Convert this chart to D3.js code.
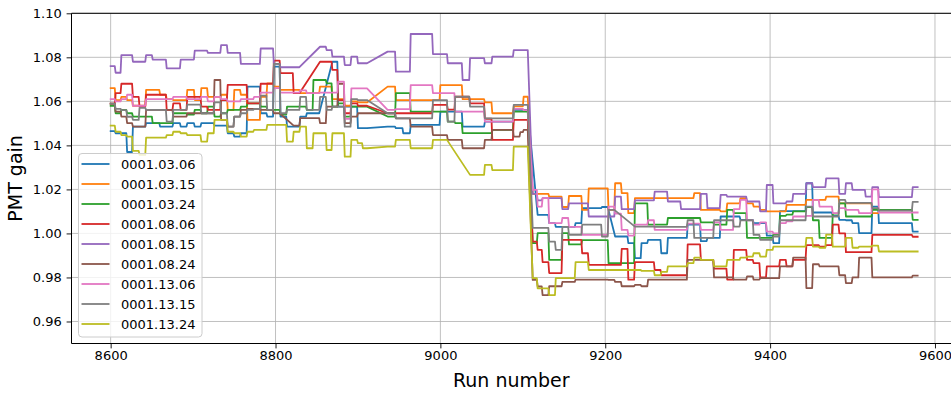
<!DOCTYPE html>
<html><head><meta charset="utf-8">
<script src="https://cdn.jsdelivr.net/npm/d3@7"></script>
<style>body{margin:0;background:#fff} svg{display:block} text{font-family:"DejaVu Sans",sans-serif}</style>
</head><body><svg id="c" width="951" height="393"></svg>
<script>
// calibration periods [first run, last run]
const periods = [
[8600,8605],[8606,8612],[8613,8619],[8620,8626],[8627,8634],[8635,8642],[8643,8650],[8651,8659],[8660,8667],[8668,8675],
[8676,8684],[8685,8692],[8693,8701],[8702,8709],[8710,8717],[8718,8725],[8726,8733],[8734,8741],[8742,8749],[8750,8757],
[8758,8765],[8766,8773],[8774,8781],[8782,8789],[8790,8797],[8798,8805],[8806,8813],[8814,8821],[8822,8829],[8830,8837],
[8838,8845],[8846,8853],[8854,8861],[8862,8868],[8869,8875],[8876,8883],[8884,8891],[8892,8899],[8900,8905],[8906,8911],
[8936,8945],[8946,8954],[8955,8963],[8964,8972],[8973,8981],[8982,8990],[8991,8999],[9000,9008],[9009,9017],[9018,9026],
[9027,9035],[9036,9044],[9045,9053],[9054,9062],[9063,9071],[9072,9080],[9081,9088],[9089,9096],[9097,9100],[9101,9106],
[9112,9117],[9118,9123],[9124,9131],[9132,9139],[9140,9147],[9148,9155],[9156,9163],[9164,9171],[9172,9179],[9180,9187],
[9188,9195],[9196,9203],[9204,9211],[9212,9219],[9220,9227],[9228,9235],[9236,9243],[9244,9251],[9252,9259],[9260,9267],
[9268,9275],[9276,9283],[9284,9291],[9292,9299],[9300,9307],[9308,9315],[9316,9323],[9324,9331],[9332,9339],[9340,9347],
[9348,9355],[9356,9363],[9364,9371],[9372,9379],[9380,9387],[9388,9395],[9396,9403],[9404,9411],[9412,9419],[9420,9427],
[9428,9435],[9436,9443],[9444,9451],[9452,9459],[9460,9467],[9468,9475],[9476,9483],[9484,9491],[9492,9499],[9500,9507],
[9508,9515],[9516,9523],[9524,9531],[9532,9539],[9540,9572],[9573,9579]];

const labels = ["0001.03.06","0001.03.15","0001.03.24","0001.08.06","0001.08.15","0001.08.24","0001.13.06","0001.13.15","0001.13.24"];
const colors = ["#1f77b4","#ff7f0e","#2ca02c","#d62728","#9467bd","#8c564b","#e377c2","#7f7f7f","#bcbd22"];

const gain_0001_03_06 = [1.0465,1.0455,1.0455,1.037,1.0485,1.0485,1.0501,1.0501,1.0485,1.0485,
1.0501,1.0485,1.0501,1.0485,1.0501,1.0501,1.049,1.049,1.0455,1.044,
1.0455,1.0667,1.0667,1.0546,1.0531,1.0758,1.0531,1.0485,1.0485,1.0531,
1.0546,1.0546,null,null,1.078,1.0576,1.0576,1.0576,1.0478,1.0478,
1.0485,1.0478,1.0455,1.0493,1.0493,1.0493,1.0493,1.0553,1.0553,1.0553,
1.0485,1.0485,1.0485,1.0508,1.0508,1.0508,1.0508,1.0561,1.0561,1.0561,
null,1.0084,1.0084,1.0047,1.003,1.003,1.003,1.0047,1.0115,1.0115,
1.0115,1.012,null,0.9986,0.9986,0.9956,0.9888,0.9956,0.9971,0.9971,
0.991,0.998,0.998,0.998,1.004,1.004,0.9965,0.998,0.998,1.0077,
1.0077,1.0077,1.0062,1.0062,1.0047,1.0047,0.999,0.9956,1.0101,1.0101,
1.0101,1.0101,1.0228,1.0095,1.0095,1.0095,1.008,1.0062,1.006,1.0047,
1.0001,1.0001,1.0122,1.0047,1.0047,1.0008];

const gain_0001_03_15 = [1.066,1.0606,1.062,1.0606,1.058,1.058,1.0652,1.0652,1.063,1.061,
1.0606,1.0606,1.0652,1.0606,1.066,1.062,1.062,1.063,1.056,1.0652,
1.063,1.0516,1.0516,1.062,1.0682,1.0667,1.0652,1.0652,1.0652,1.0637,
1.0637,1.0637,1.0667,1.0667,1.061,1.061,1.058,1.06,1.0595,1.0595,
1.0667,1.0606,1.0606,1.0606,1.0606,1.0606,1.0606,1.0674,1.0674,1.0674,
1.061,1.061,1.061,1.0595,1.0546,1.0546,1.0546,1.0577,1.0577,1.0621,
1.018,1.018,1.018,1.0167,1.0167,1.012,1.017,1.017,1.0107,1.0205,
1.0205,1.0205,1.0107,1.0228,1.0183,1.0092,1.016,1.016,1.016,1.016,
1.016,1.016,1.016,1.016,1.016,1.0183,1.0107,1.0107,1.0107,1.01,
1.0137,1.0137,1.016,1.0137,1.0122,1.0107,1.01,1.01,1.01,1.013,
1.013,1.013,1.0152,1.0152,1.0152,1.0167,1.0167,1.0137,1.0137,1.0137,
1.0137,1.0137,1.0092,null,null,null];

const gain_0001_03_24 = [1.058,1.0546,1.0561,1.0546,1.0531,1.0531,1.0531,1.0501,1.0501,1.0501,
1.0546,1.0546,1.054,1.0561,1.0546,1.0576,1.0531,1.0546,1.0561,1.0561,
1.0576,1.0591,1.0591,1.0576,1.0561,1.0561,1.054,1.0576,1.0576,1.0576,
1.0561,1.0697,1.0697,1.0682,1.0576,1.0591,1.0531,1.0576,1.0576,1.0576,
1.0531,1.0637,1.0637,1.0553,1.0553,1.0553,1.0553,1.0553,1.0508,1.0501,
1.0456,1.0456,1.0456,1.0456,1.047,1.047,1.047,1.0553,1.0553,1.0553,
0.9956,1.0001,1.0001,0.988,0.988,1.0001,0.995,0.995,0.997,0.997,
0.997,0.997,0.9865,0.9865,0.9865,0.9865,1.0137,1.0137,1.004,1.004,
1.004,1.007,1.007,1.007,1.007,1.007,1.005,1.005,1.004,1.004,
1.0107,1.0092,1.0092,0.998,0.998,0.998,0.998,0.9995,1.008,1.0085,
1.01,1.01,1.012,1.006,0.998,0.998,1.009,1.0137,1.0077,1.0077,
1.0077,1.0077,1.0107,1.0107,1.0107,1.0062];

const gain_0001_08_06 = [1.059,1.0637,1.068,1.068,1.062,1.0576,1.063,1.063,1.063,1.0561,
1.0591,1.0561,1.062,1.062,1.0576,1.0561,1.0561,1.0606,1.0675,1.0675,
1.0675,1.0591,1.0591,1.068,1.068,1.0785,1.0728,1.0728,1.0637,null,
null,null,1.078,1.078,1.0743,1.0606,1.0546,1.0591,1.058,1.058,
1.0546,1.0546,1.0546,1.0546,1.0546,1.0546,1.0584,1.0584,1.0562,1.0621,
1.0621,1.0591,1.0591,1.0521,1.0425,1.0425,1.0425,1.0516,1.0516,1.0516,
0.9963,0.9925,0.987,0.982,0.982,0.9971,0.9971,0.9971,0.991,0.9857,
0.9857,0.9857,0.9857,0.9857,0.993,0.979,0.987,0.987,0.987,0.9834,
0.981,0.981,0.981,0.981,0.995,0.995,0.988,0.988,0.984,0.984,
0.979,0.9925,0.9925,0.988,0.9865,0.98,0.985,0.985,0.988,0.985,
0.988,0.988,0.9947,0.9947,0.994,0.9947,1.004,1.0,0.9915,0.9915,
0.9915,0.9915,0.9993,0.9993,0.9993,0.9985];

const gain_0001_08_15 = [1.076,1.073,1.081,1.081,1.078,1.078,1.081,1.079,1.079,1.075,
1.075,1.079,1.079,1.083,1.083,1.082,1.082,1.0855,1.082,1.082,
1.077,1.077,1.077,1.084,1.084,1.077,1.0755,1.0755,1.0755,null,
null,null,1.0848,1.0833,1.0803,1.0803,1.0765,1.0803,1.0773,1.0773,
1.0826,1.0735,1.0735,1.0906,1.0906,1.0906,1.0815,1.0815,1.0773,1.0773,
1.0697,1.0796,1.0796,1.0773,1.0803,1.0803,1.0803,1.0833,1.0833,1.0833,
1.018,1.015,1.016,1.016,1.016,1.011,1.0137,1.0137,1.0137,1.0077,
1.0077,1.0077,1.0077,1.0167,1.011,1.011,1.015,1.015,1.015,1.019,
1.019,1.0145,1.0145,1.011,1.011,1.011,1.018,1.0115,1.0115,1.0175,
1.0167,1.0167,1.0167,1.0145,1.0145,1.010,1.022,1.0137,1.0137,1.0145,
1.018,1.018,1.0228,1.021,1.021,1.025,1.025,1.018,1.0228,1.0198,
1.0198,1.0167,1.021,1.0165,1.0165,1.021];

const gain_0001_08_24 = [1.059,1.0553,1.0531,1.0501,1.0485,1.0485,1.0561,1.0561,1.0561,1.0561,
1.0531,1.0531,1.0546,1.0546,1.0546,1.0546,1.0697,1.0516,1.0485,1.0531,
1.0561,1.0566,1.0566,1.0561,1.0561,1.0546,null,null,1.049,1.0524,
1.0524,1.0524,1.0501,1.0576,1.0576,1.068,1.0501,1.0531,1.0546,1.0546,
1.0546,1.0523,1.0523,1.0485,1.0485,1.0485,1.0447,1.0447,1.0425,1.0425,
1.0387,1.0387,1.0387,1.0425,1.047,1.047,1.047,1.044,1.046,1.047,
0.9789,0.9759,0.972,0.976,0.976,0.978,0.978,0.979,0.979,0.979,
0.979,0.979,0.9789,0.978,0.976,0.976,0.9766,0.976,0.979,0.979,
0.979,0.979,0.979,0.979,0.988,0.988,0.988,0.988,0.98,0.98,
0.98,0.979,0.979,0.9805,0.979,0.9797,0.9797,0.9797,0.985,0.985,
0.989,0.989,0.9752,0.986,0.985,0.985,0.985,0.981,0.9774,0.980,
0.989,0.989,0.980,0.980,0.980,0.9808];

const gain_0001_13_06 = [1.061,1.06,1.061,1.063,1.058,1.058,1.061,1.061,1.061,1.061,
1.062,1.062,1.061,1.061,1.062,1.060,1.062,1.061,1.060,1.060,
1.061,1.061,1.062,1.064,1.064,1.066,1.064,1.064,1.064,1.065,
1.0637,1.0637,1.064,1.064,1.064,1.069,1.052,1.0659,1.0659,1.0659,
1.0561,1.0565,1.0565,1.0674,1.0674,1.0674,1.0637,1.0637,1.0637,1.0553,
1.0553,1.0553,1.0553,1.0508,1.0508,1.0508,1.0508,1.0566,1.0566,1.056,
1.0198,1.0122,1.016,1.0047,1.0047,1.007,1.003,1.003,0.9993,0.9993,
0.9993,0.9993,1.0122,1.009,1.0016,0.999,1.004,1.004,1.006,1.0016,
1.0016,1.0016,1.0016,1.0016,1.0045,1.0045,1.0016,1.0016,1.005,1.0016,
1.0016,1.011,1.0152,1.006,1.004,1.005,1.0008,1.0,1.0047,1.0055,
1.0077,1.0077,1.008,1.0152,1.0122,1.0122,1.0092,1.0115,1.0107,1.0107,
1.0092,1.0092,1.02,1.0095,1.0095,1.0095];

const gain_0001_13_15 = [1.059,1.0566,1.056,1.053,1.0516,1.057,1.0561,1.0561,1.0561,1.0508,
1.0561,1.0561,1.0585,1.0585,1.0546,1.0546,1.0595,1.0546,1.0485,1.0531,
1.0546,1.0561,1.0566,1.0626,1.0561,1.077,1.0546,1.0561,1.0561,1.062,
1.0561,1.0561,1.062,1.0561,1.0576,1.0576,1.0485,1.061,1.0606,1.0606,
1.0546,1.0523,1.0523,1.0523,1.0523,1.0523,1.0606,1.0606,1.0508,1.0621,
1.0621,1.0576,1.0576,1.0523,1.0523,1.0523,1.0523,1.0584,1.0584,1.0584,
1.0025,1.0025,1.0025,0.9963,0.9925,1.003,0.9993,0.9993,1.004,1.004,
1.004,0.9986,1.0107,null,null,null,1.0031,1.0031,1.0031,1.003,
1.003,1.003,1.003,1.003,1.006,0.998,0.998,0.998,1.006,1.006,
1.006,1.0031,1.006,1.006,0.9993,0.9971,0.9971,0.9986,1.006,1.006,
1.006,1.006,1.0122,1.0077,1.0077,1.0077,1.0077,1.0152,1.0139,1.0139,
1.0139,1.0139,1.0115,1.0104,1.0104,1.0143];

const gain_0001_13_24 = [1.049,1.0462,1.0447,1.044,1.0375,1.0357,1.0435,1.0435,1.0435,1.0447,
1.0462,1.0455,1.0447,1.0447,1.0417,1.0455,1.0516,1.0516,1.0462,1.0455,
1.044,1.0462,1.047,1.047,1.0493,1.0493,1.0493,1.0417,1.0462,1.0485,
1.0387,1.0455,1.0455,1.0379,1.0455,1.0455,1.0349,1.0425,1.041,1.0387,
1.0394,1.0425,1.0425,1.0387,1.0387,1.0387,1.0425,1.0425,null,null,
null,1.0266,1.0266,1.0311,1.0288,1.0288,1.0288,1.0394,1.0394,1.0394,
0.9797,0.975,0.975,0.972,0.9797,0.9797,0.9797,0.987,0.987,0.9834,
0.9834,0.9834,0.9834,0.9834,0.9834,0.9834,0.9834,0.983,0.983,0.981,
0.9825,0.985,0.985,0.985,0.9865,0.989,0.988,0.988,0.985,0.985,
0.988,0.988,0.989,0.9895,0.991,0.9895,0.9925,0.994,0.994,0.994,
0.994,0.994,0.998,0.994,0.9935,0.9995,0.994,0.994,0.998,0.9935,
0.994,0.994,0.9945,0.9918,0.9918,0.9918];

const seriesValues = [gain_0001_03_06,gain_0001_03_15,gain_0001_03_24,gain_0001_08_06,gain_0001_08_15,gain_0001_08_24,gain_0001_13_06,gain_0001_13_15,gain_0001_13_24];

const xTicks = [8600,8800,9000,9200,9400,9600];
const yTicks = [0.96,0.98,1.00,1.02,1.04,1.06,1.08,1.10];

const L = 71.5, R = 955, T = 13.3, B = 343.5;
const svg = d3.select("#c");
svg.append("rect").attr("width",951).attr("height",393).attr("fill","#fff");
const x = d3.scaleLinear().domain([8552.5, 9624.3]).range([L, R]);
const y = d3.scaleLinear().domain([0.95, 1.10]).range([B, T]);

// grid
const grid = svg.append("g").attr("stroke","#b0b0b0").attr("stroke-width",0.8);
grid.selectAll("line.gx").data(xTicks).enter().append("line")
  .attr("x1",d=>x(d)).attr("x2",d=>x(d)).attr("y1",T).attr("y2",B);
grid.selectAll("line.gy").data(yTicks).enter().append("line")
  .attr("x1",L).attr("x2",R).attr("y1",d=>y(d)).attr("y2",d=>y(d));

// clip
svg.append("clipPath").attr("id","clip").append("rect")
  .attr("x",L).attr("y",T).attr("width",R-L).attr("height",B-T);

const line = d3.line().x(d=>x(d[0])).y(d=>y(d[1]));
const plot = svg.append("g").attr("clip-path","url(#clip)");
seriesValues.forEach((vals,i)=>{
  const pts = [];
  vals.forEach((v,k)=>{ if(v!==null){ pts.push([periods[k][0],v]); pts.push([periods[k][1],v]); } });
  plot.append("path").attr("d",line(pts)).attr("fill","none")
    .attr("stroke",colors[i]).attr("stroke-width",1.8).attr("stroke-linejoin","round").attr("stroke-linecap","square");
});

// axes
const xAxis = svg.append("g").attr("transform",`translate(0,${B})`)
  .call(d3.axisBottom(x).tickValues(xTicks).tickFormat(d3.format("d")).tickSize(4.9).tickPadding(2.6));
const yAxis = svg.append("g").attr("transform",`translate(${L},0)`)
  .call(d3.axisLeft(y).tickValues(yTicks).tickFormat(d3.format(".2f")).tickSize(4.9).tickPadding(4.9));
[xAxis,yAxis].forEach(a=>{
  a.select(".domain").remove();
  a.selectAll("text").attr("font-size",13).attr("font-family","DejaVu Sans").attr("fill","#000");
  a.selectAll("line").attr("stroke","#000").attr("stroke-width",0.9);
});

// spines
const sp = svg.append("g").attr("stroke","#000").attr("stroke-width",1).attr("fill","none");
sp.append("line").attr("x1",L).attr("x2",L).attr("y1",T).attr("y2",B);
sp.append("line").attr("x1",L).attr("x2",R).attr("y1",B).attr("y2",B);
sp.append("line").attr("x1",L).attr("x2",R).attr("y1",T).attr("y2",T);

// axis labels
svg.append("text").attr("x",(L+R)/2 - 2).attr("y",387).attr("text-anchor","middle")
  .attr("font-size",19).text("Run number");
svg.append("text").attr("transform",`translate(22,${(T+B)/2}) rotate(-90)`).attr("text-anchor","middle")
  .attr("font-size",19).text("PMT gain");

// legend
const lg = svg.append("g");
lg.append("rect").attr("x",78.5).attr("y",153.5).attr("width",123.5).attr("height",183.5)
  .attr("rx",3.5).attr("fill","#fff").attr("fill-opacity",0.8).attr("stroke","#cccccc").attr("stroke-width",1);
labels.forEach((lab,i)=>{
  const yy = 164 + 20*i;
  lg.append("line").attr("x1",81.5).attr("x2",109.5).attr("y1",yy).attr("y2",yy)
    .attr("stroke",colors[i]).attr("stroke-width",1.8);
  lg.append("text").attr("x",121).attr("y",yy+4.7).attr("font-size",13).attr("fill","#000").text(lab);
});
</script></body></html>
